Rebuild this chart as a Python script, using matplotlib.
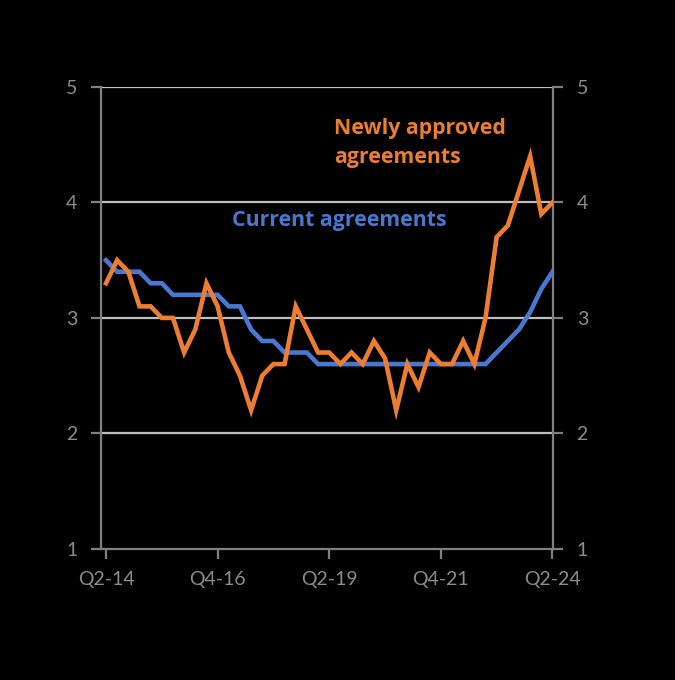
import matplotlib.pyplot as plt
import numpy as np

# quarterly, Q2-14 .. Q2-24
quarters = ['Q%d-%02d' % (q, y % 100) for y in range(2014, 2025) for q in range(1, 5)]
quarters = quarters[1:42]

current = [3.5, 3.4, 3.4, 3.4, 3.3, 3.3, 3.2, 3.2, 3.2, 3.2,
           3.2, 3.1, 3.1, 2.9, 2.8, 2.8, 2.7, 2.7, 2.7, 2.6,
           2.6, 2.6, 2.6, 2.6, 2.6, 2.6, 2.6, 2.6, 2.6, 2.6,
           2.6, 2.6, 2.6, 2.6, 2.6, 2.7, 2.8, 2.9, 3.05, 3.25,
           3.4]
newly = [3.3, 3.5, 3.4, 3.1, 3.1, 3.0, 3.0, 2.7, 2.9, 3.3,
         3.1, 2.7, 2.5, 2.2, 2.5, 2.6, 2.6, 3.1, 2.9, 2.7,
         2.7, 2.6, 2.7, 2.6, 2.8, 2.65, 2.2, 2.6, 2.4, 2.7,
         2.6, 2.6, 2.8, 2.6, 3.0, 3.7, 3.8, 4.1, 4.4, 3.9,
         4.0]
tick_idx = [0, 10, 20, 30, 40]

blue = '#4878d0'
orange = '#ED7D31'
grey = '#8c8c8c'

plt.rcParams['font.family'] = ['Lato', 'DejaVu Sans']

fig = plt.figure(figsize=(6.75, 6.8), dpi=100, facecolor='black')
ax = fig.add_axes([0.1496, 0.193, 0.8193 - 0.1496, 0.872 - 0.193])
ax.set_facecolor('black')

x = np.arange(len(current))
ax.plot(x, current, color=blue, lw=3.3, solid_joinstyle='miter', zorder=3)
ax.plot(x, newly, color=orange, lw=3.3, solid_joinstyle='miter', zorder=4)

ax.set_ylim(1, 5)
ax.set_xlim(-0.45, 40.05)
ax.set_yticks([1, 2, 3, 4, 5])
ax.set_xticks(tick_idx)
ax.set_xticklabels([quarters[i] for i in tick_idx])

for v in [2, 3, 4, 5]:
    ax.axhline(v, color='#bfbfbf', lw=1.6, zorder=1)

for s in ['left', 'right', 'bottom']:
    ax.spines[s].set_color('#808080')
    ax.spines[s].set_linewidth(1.6)
ax.spines['top'].set_visible(False)

ax.tick_params(axis='y', left=True, right=True, labelleft=True, labelright=True,
               direction='out', length=7, width=1.6, color='#808080',
               labelcolor=grey, labelsize=14, pad=10)
ax.tick_params(axis='x', direction='out', length=7, width=1.6, color='#808080',
               labelcolor=grey, labelsize=14, pad=9)

ax.text(20.4, 4.515, 'Newly approved\nagreements', color=orange, fontsize=15.3,
        family=['Open Sans', 'DejaVu Sans'], fontweight='bold',
        ha='left', va='center', linespacing=1.53)
ax.text(11.3, 3.84, 'Current agreements', color=blue, fontsize=15.3,
        family=['Open Sans', 'DejaVu Sans'], fontweight='bold',
        ha='left', va='center')

fig.savefig('out.png', dpi=100, facecolor='black')
